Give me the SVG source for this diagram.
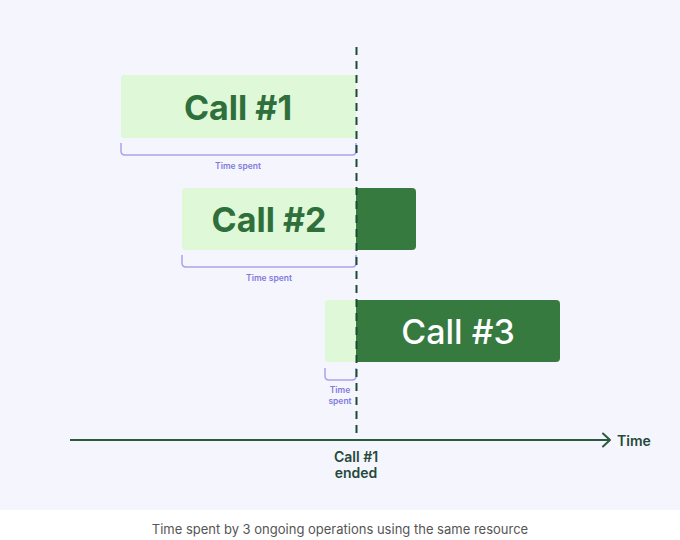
<svg xmlns="http://www.w3.org/2000/svg" width="680" height="540" viewBox="0 0 680 540">
<style>
.light{fill:#dff8d8}
.dark{fill:#367a3f}
.lbl{font-family:Inter,"Liberation Sans",sans-serif;font-weight:700;text-anchor:middle}
.callt{font-size:34px;fill:#2f6f3b}
.callw{font-size:34px;fill:#ffffff;font-weight:500}
.brk{fill:none;stroke:#a9a2ea;stroke-width:1.5}
.ts{font-family:Inter,"Liberation Sans",sans-serif;font-size:8.5px;font-weight:600;fill:#8279de;text-anchor:middle}
.axt{font-family:Inter,"Liberation Sans",sans-serif;font-size:14px;font-weight:600;fill:#25493a}
</style>
<rect x="0" y="0" width="680" height="510" fill="#f5f6fd"/>
<rect x="0" y="510" width="680" height="30" fill="#ffffff"/>
<g id="call1">
<path class="light" d="M124,75 H356 V138 H124 Q121,138 121,135 V78 Q121,75 124,75 Z"/>
<text class="lbl callt" x="238" y="120">Call #1</text>
<path class="brk" d="M121,143 V151 Q121,155 125,155 H352 Q356,155 356,151 V143"/>
<text class="ts" x="238" y="169">Time spent</text>
</g>
<g id="call2">
<path class="light" d="M185,188 H356 V250 H185 Q182,250 182,247 V191 Q182,188 185,188 Z"/>
<path class="dark" d="M356,188 H412 Q416,188 416,192 V246 Q416,250 412,250 H356 Z"/>
<text class="lbl callt" x="269" y="232">Call #2</text>
<path class="brk" d="M182,255 V263 Q182,267 186,267 H352 Q356,267 356,263 V255"/>
<text class="ts" x="269" y="281">Time spent</text>
</g>
<g id="call3">
<path class="light" d="M328,300 H356 V362 H328 Q325,362 325,359 V303 Q325,300 328,300 Z"/>
<path class="dark" d="M356,300 H556 Q560,300 560,304 V358 Q560,362 556,362 H356 Z"/>
<text class="lbl callw" x="458" y="344">Call #3</text>
<path class="brk" d="M325,368 V376 Q325,380 329,380 H352 Q356,380 356,376 V368"/>
<text class="ts" x="340" y="393">Time</text>
<text class="ts" x="340" y="404">spent</text>
</g>
<g id="connectors">
<line x1="356.5" y1="47" x2="356.5" y2="440" stroke="#1e4a34" stroke-width="2" stroke-dasharray="8 6"/>
<line x1="70" y1="440" x2="610" y2="440" stroke="#2c5a3f" stroke-width="2"/>
<path d="M603,433.5 L610,440 L603,446.5" fill="none" stroke="#2c5a3f" stroke-width="2" stroke-linecap="round" stroke-linejoin="round"/>
</g>
<g id="axis-labels">
<text class="axt" x="617" y="446">Time</text>
<text class="axt" x="356" y="462" text-anchor="middle">Call #1</text>
<text class="axt" x="356" y="478" text-anchor="middle">ended</text>
</g>
<text x="340" y="534" font-family="Inter,'Liberation Sans',sans-serif" font-size="13" fill="#555555" text-anchor="middle">Time spent by 3 ongoing operations using the same resource</text>
</svg>
